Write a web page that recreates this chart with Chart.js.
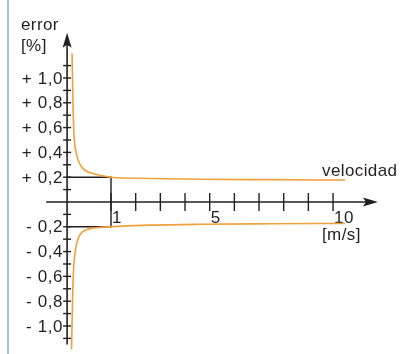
<!DOCTYPE html>
<html>
<head>
<meta charset="utf-8">
<script src="https://cdn.jsdelivr.net/npm/chart.js@4.4.1/dist/chart.umd.min.js"></script>
<style>
  html, body { margin: 0; padding: 0; background: #fff; }
  #wrap { width: 401px; height: 354px; }
</style>
</head>
<body>
<div id="wrap"><canvas id="errChart" width="401" height="354"></canvas></div>
<script>
// curva superior / inferior del error
const upperX = [-0.58, -0.54, -0.50, -0.46, -0.38, -0.30, -0.18, -0.01, 0.15, 0.55, 1, 2.58, 4.61, 7.45, 10.49];
const upperY = [1.20, 0.78, 0.54, 0.45, 0.37, 0.32, 0.28, 0.25, 0.235, 0.215, 0.20, 0.19, 0.183, 0.18, 0.177];
const lowerX = [-0.60, -0.56, -0.52, -0.48, -0.40, -0.30, -0.18, -0.01, 0.15, 0.55, 1, 2.58, 4.61, 7.45, 10.49];
const lowerY = [-1.19, -0.80, -0.55, -0.45, -0.34, -0.28, -0.245, -0.225, -0.215, -0.205, -0.20, -0.187, -0.18, -0.176, -0.173];

// ejes
const xTicks = [1, 2, 3, 4, 5, 6, 7, 8, 9, 10];
const xTickLabels = [1, 5, 10];
const yTicks = [-1.1, -1.0, -0.9, -0.8, -0.7, -0.6, -0.5, -0.4, -0.3, -0.2, -0.1,
                0.1, 0.2, 0.3, 0.4, 0.5, 0.6, 0.7, 0.8, 0.9, 1.0, 1.1];
const yTickLabels = [1.0, 0.8, 0.6, 0.4, 0.2, -0.2, -0.4, -0.6, -0.8, -1.0];
const refX = 1;       // linea de referencia en 1 m/s
const refY = 0.2;     // +/- 0,2 %

const Y_AXIS_AT = -0.78;
const FONT = '17px "Liberation Sans", Arial, sans-serif';
const INK = '#231f20';
const ORANGE = 'rgb(240, 160, 60)';

function fmtY(v) {
    return (v > 0 ? '+ ' : '- ') + Math.abs(v).toFixed(1).replace('.', ',');
}

const axesPlugin = {
    id: 'axesPlugin',
    beforeDatasetsDraw(chart) {
        const ctx = chart.ctx;
        const xs = chart.scales.x, ys = chart.scales.y;
        const px = v => xs.getPixelForValue(v);
        const py = v => ys.getPixelForValue(v);
        const x0 = px(Y_AXIS_AT), y0 = py(0);

        ctx.save();
        // borde azul a la izquierda
        ctx.strokeStyle = '#a9bfdf';
        ctx.lineWidth = 2;
        ctx.beginPath();
        ctx.moveTo(8, 0);
        ctx.lineTo(8, chart.height);
        ctx.stroke();

        ctx.strokeStyle = INK;
        ctx.fillStyle = INK;
        ctx.lineWidth = 1.6;

        // eje y
        const yTop = py(1.365), yBot = py(-1.15);
        ctx.beginPath();
        ctx.moveTo(x0, yBot);
        ctx.lineTo(x0, yTop + 10);
        ctx.stroke();
        ctx.beginPath();
        ctx.moveTo(x0, yTop);
        ctx.lineTo(x0 - 4.5, yTop + 15);
        ctx.lineTo(x0, yTop + 12);
        ctx.lineTo(x0 + 4.5, yTop + 15);
        ctx.closePath();
        ctx.fill();

        // eje x
        const xLeft = px(-1.63), xRight = px(11.82);
        ctx.beginPath();
        ctx.moveTo(xLeft, y0);
        ctx.lineTo(xRight - 10, y0);
        ctx.stroke();
        ctx.beginPath();
        ctx.moveTo(xRight, y0);
        ctx.lineTo(xRight - 15, y0 - 4.5);
        ctx.lineTo(xRight - 12, y0);
        ctx.lineTo(xRight - 15, y0 + 4.5);
        ctx.closePath();
        ctx.fill();

        // marcas eje y
        ctx.lineWidth = 1.4;
        yTicks.forEach(v => {
            ctx.beginPath();
            ctx.moveTo(x0 - 4, py(v));
            ctx.lineTo(x0 + 4, py(v));
            ctx.stroke();
        });
        // marcas eje x
        xTicks.forEach(v => {
            ctx.beginPath();
            ctx.moveTo(px(v), y0 - 9);
            ctx.lineTo(px(v), y0 + 9);
            ctx.stroke();
        });

        // lineas de referencia en 1 m/s
        ctx.lineWidth = 1.4;
        ctx.beginPath();
        ctx.moveTo(x0, py(refY));
        ctx.lineTo(px(refX), py(refY));
        ctx.lineTo(px(refX), py(-refY));
        ctx.lineTo(x0, py(-refY));
        ctx.stroke();

        // textos
        ctx.font = FONT;
        ctx.letterSpacing = '0.6px';
        ctx.textAlign = 'right';
        ctx.textBaseline = 'middle';
        yTickLabels.forEach(v => ctx.fillText(fmtY(v), x0 - 4, py(v) + 1));

        ctx.textAlign = 'left';
        ctx.textBaseline = 'alphabetic';
        xTickLabels.forEach(v => ctx.fillText(String(v), px(v) + 1, y0 + 21));

        ctx.letterSpacing = '0.4px';
        ctx.fillText('error', 21, 30);
        ctx.fillText('[%]', 21, 51);
        ctx.fillText('velocidad', 322, 176);
        ctx.fillText('[m/s]', 322, 240);
        ctx.restore();
    }
};

new Chart(document.getElementById('errChart'), {
    type: 'line',
    data: {
        datasets: [{
            label: 'error +',
            data: upperX.map((x, i) => ({ x: x, y: upperY[i] })),
            borderColor: ORANGE,
            borderWidth: 1.6,
            pointRadius: 0,
            fill: false,
            cubicInterpolationMode: 'monotone'
        }, {
            label: 'error -',
            data: lowerX.map((x, i) => ({ x: x, y: lowerY[i] })),
            borderColor: ORANGE,
            borderWidth: 1.6,
            pointRadius: 0,
            fill: false,
            cubicInterpolationMode: 'monotone'
        }]
    },
    options: {
        responsive: false,
        animation: false,
        devicePixelRatio: 1,
        layout: { padding: 0 },
        scales: {
            x: { type: 'linear', min: -3.5, max: 12.755, display: false },
            y: { type: 'linear', min: -1.226, max: 1.629, display: false }
        },
        plugins: {
            legend: { display: false },
            tooltip: { enabled: false }
        }
    },
    plugins: [axesPlugin]
});
</script>
</body>
</html>
